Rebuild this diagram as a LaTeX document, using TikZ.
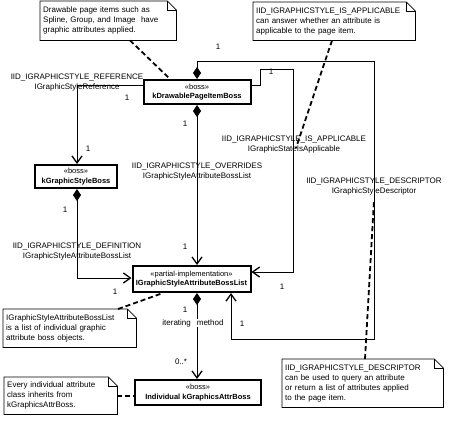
\documentclass[tikz,border=0pt]{standalone}
\usepackage{fontspec}
\setmainfont{Liberation Sans}
\usetikzlibrary{arrows.meta}
\newcommand\lbl{\fontsize{8}{10}\selectfont}
\newcommand\boxfont{\fontsize{7.5}{9.5}\selectfont}
\newcommand\notefold[1]{%
  \draw[noteline] (#1.north west) -- ([xshift=-9pt]#1.north east) -- ([yshift=-9pt]#1.north east) -- (#1.south east) -- (#1.south west) -- cycle;
  \draw[noteline] ([xshift=-9pt]#1.north east) -- ([xshift=-9pt,yshift=-9pt]#1.north east) -- ([yshift=-9pt]#1.north east);}
\tikzset{
  boss/.style={draw, line width=2pt, fill=white, font=\boxfont, align=center, inner sep=0pt},
  note/.style={draw=none, font=\lbl, align=left, anchor=north west, inner sep=3pt},
  noteline/.style={line width=0.8pt},
  conn/.style={line width=0.8pt},
  arr/.style={conn, -{Straight Barb[length=7pt,width=10pt,line width=1.3pt]}},
  dia/.style={conn, {Diamond[length=12pt,width=8pt]}-{Straight Barb[length=7pt,width=10pt,line width=1.3pt]}},
  notelink/.style={line width=1.8pt, dash pattern=on 5pt off 3pt},
  lab/.style={font=\lbl, align=center, inner sep=0pt},
  mult/.style={font=\lbl, inner sep=0pt},
}
\begin{document}
\begin{tikzpicture}[x=1pt,y=-1pt]
\fill[white] (0,0) rectangle (462,440);
\useasboundingbox (0,0) rectangle (462,440);
% helper coordinates
\coordinate (k77) at (77,0);
\coordinate (k85) at (0,85);
\coordinate (k231) at (231,0);
\coordinate (k272) at (0,272);
\coordinate (k278) at (0,278);
\coordinate (k130) at (130,0);
\coordinate (k170) at (170,0);
\coordinate (k332) at (332,0);
\coordinate (k365) at (365,0);
\coordinate (k118) at (118,0);
\coordinate (k163) at (163,0);
\coordinate (d2) at (296,148);
\coordinate (d3) at (374,200);
% boxes
\node[boss, minimum width=107pt, minimum height=24pt] (b1) at (197,92) {«boss»\\\textbf{kDrawablePageItemBoss}};
\node[boss, minimum width=82pt, minimum height=23pt] (b2) at (76,176.5) {«boss»\\\textbf{kGraphicStyleBoss}};
\node[boss, minimum width=118pt, minimum height=26pt] (b3) at (191.5,279) {«partial-implementation»\\\textbf{IGraphicStyleAttributeBossList}};
\node[boss, minimum width=126pt, minimum height=25pt] (b4) at (198,392.5) {«boss»\\\textbf{Individual kGraphicsAttrBoss}};
% notes
\node[note, minimum width=136pt, minimum height=39pt, text width=130pt] (n1) at (40,1) {Drawable page items such as\\Spline, Group, and Image\ \ have\\graphic attributes applied.};
\node[note, minimum width=162pt, minimum height=38pt, text width=156pt] (n2) at (253,2) {IID\_IGRAPHICSTYLE\_IS\_APPLICABLE\\can answer whether an attribute is\\applicable to the page item.};
\node[note, minimum width=161pt, minimum height=48pt, text width=155pt] (n3) at (282,359) {IID\_IGRAPHICSTYLE\_DESCRIPTOR\\can be used to query an attribute\\or return a list of attributes applied\\to the page item.};
\node[note, minimum width=133pt, minimum height=38pt, text width=127pt] (n4) at (3,309) {IGraphicStyleAttributeBossList\\is a list of individual graphic\\attribute boss objects.};
\node[note, minimum width=113pt, minimum height=37pt, text width=107pt] (n5) at (4,377) {Every individual attribute\\class inherits from\\kGraphicsAttrBoss.};
\notefold{n1}
\notefold{n2}
\notefold{n3}
\notefold{n4}
\notefold{n5}
% connectors
\draw[arr] (b1.west |- k85) -| (b2.north -| k77);
\draw[dia] (b1.north) |- (374,61) |- (231,339) -- (b3.south -| k231);
\draw[arr] (b1.east |- k85) -| (260,69) -| (293,272) -- (b3.east |- k272);
\draw[dia] (b1.south) -- (b3.north -| b1.south);
\draw[dia] (b2.south -| k77) |- (b3.west |- k278);
\draw[dia] (b3.south -| b1.south) -- (b4.north -| b1.south);
% note links
\draw[notelink] (n1.south -| k130) -- (b1.north -| k170);
\draw[notelink] (n2.south -| k332) -- (d2);
\draw[notelink] (n3.north -| k365) -- (d3);
\draw[notelink] (n4.north -| k118) -- (b3.south -| k163);
\draw[notelink] (n5.east) -- (b4.west |- n5.east);
% labels
\node[lab] (l1) at (77,83) {IID\_IGRAPHICSTYLE\_REFERENCE\\IGraphicStyleReference};
\node[lab] (l2) at (197,172) {IID\_IGRAPHICSTYLE\_OVERRIDES\\IGraphicStyleAttributeBossList};
\node[lab] (l3) at (294,145) {IID\_IGRAPHICSTYLE\_IS\_APPLICABLE\\IGraphicStateIsApplicable};
\node[lab] (l4) at (374,187) {IID\_IGRAPHICSTYLE\_DESCRIPTOR\\IGraphicStyleDescriptor};
\node[lab] (l5) at (77,252) {IID\_IGRAPHICSTYLE\_DEFINITION\\IGraphicStyleAttributeBossList};
\node[lab, fill=white, inner xsep=1pt] (l6) at (193,323) {iterating\hspace{6pt}method};
% multiplicities
\node[mult] (m1) at (218,47) {1};
\node[mult] (m2) at (127,98) {1};
\node[mult] (m3) at (88,149) {1};
\node[mult] (m4) at (185,124) {1};
\node[mult] (m5) at (185,247) {1};
\node[mult] (m6) at (271,72) {1};
\node[mult] (m7) at (65,210) {1};
\node[mult] (m8) at (115,292) {1};
\node[mult] (m9) at (282,287) {1};
\node[mult] (m10) at (242,324) {1};
\node[mult] (m11) at (185,310) {1};
\node[mult] (m12) at (181,362) {0..*};
\end{tikzpicture}
\end{document}
